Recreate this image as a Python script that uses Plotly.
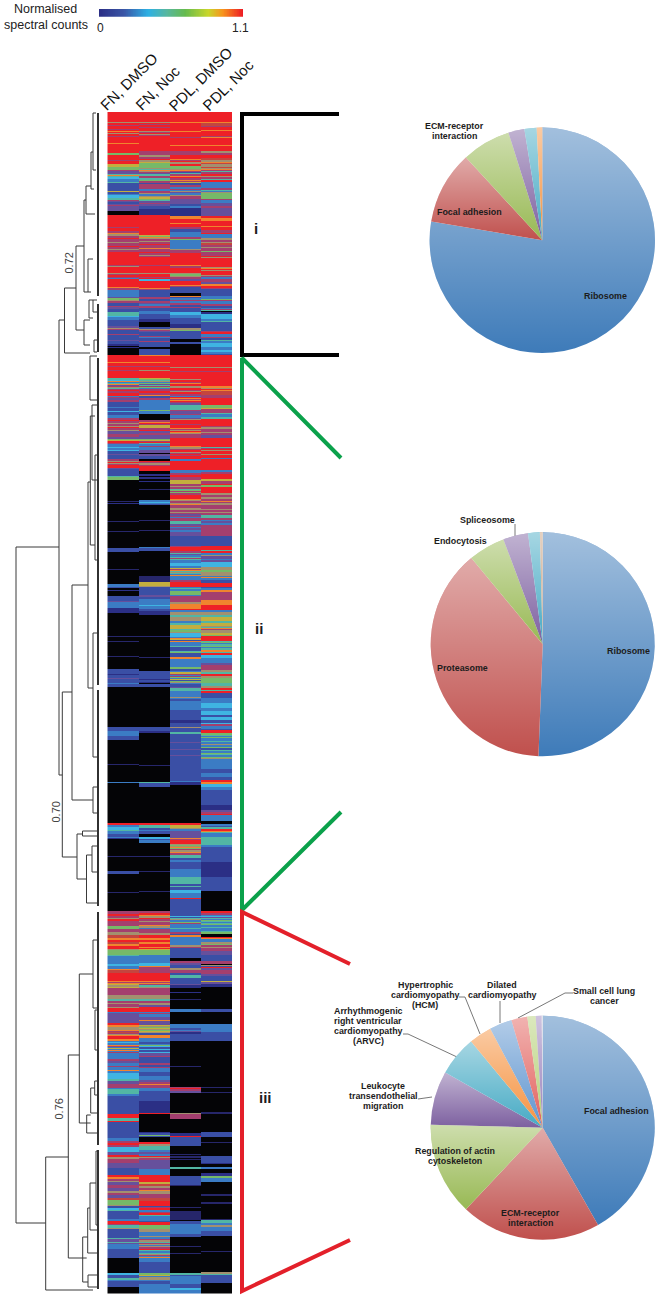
import base64, math
import plotly.graph_objects as go

W, H = 661, 1298

# ---------- heatmap data: run lengths "<level><rows>" read top to bottom; "@n" = this run starts at row n ----------
COLUMNS = ["FN, DMSO", "FN, Noc", "PDL, DMSO", "PDL, Noc"]
BLOCK_ROWS = [243, 275, 281, 383]
LEVELS = {"K": "#040406", "Q": "#26266a", "D": "#2b2f85", "B": "#3a4fa5", "L": "#3b7cc4", "C": "#3fb4e2",
          "T": "#52b6a4", "G": "#76b968", "Y": "#c3ae3e", "O": "#f0842e", "R": "#ee2027",
          "N": "#c4453f", "M": "#a43f6e", "P": "#66509c", "W": "#a3906f"}

FN_DMSO_I = "R10 W1 R2 M1 R3 M1 R1 O1 R1 W1 R2 M1 R3 R3 O1 R9 G2 R5 M1 R3 Y3 G3 M1 P3 T1 O1 T1 C2 L3 T1 B8 Y1 B2 L1 C3 T2 M1 P1 B2 P1 M1 P2 P3 @99 K4 R12 M1 R3 M2 O1 W2 M2 R1 M3 W1 M3 R1 M2 W1 M2 R8 @153 M1 W1 R6 W1 M1 R2 M1 L1 R8 O1 M2 @178 L7 P1 G2 W1 M2 B3 M1 P2 B3 T4 C1 L3 B6 P2 W1 M1 B4 M1 B5 P1 B3 D2 K1 D1 K7"
FN_NOC_I = "R10 W1 R1 M1 R2 M1 R3 W1 M1 R1 W1 M1 R5 R10 M4 W2 M2 R1 W2 Y1 G5 W1 T1 O1 W1 M1 P1 T2 M2 T2 G1 M2 B1 M2 M3 L2 M2 W1 L2 W1 Y2 G1 T1 P2 M1 P2 B3 D6 @103 R16 R4 Y1 G1 O1 W1 M2 W1 M2 R1 M3 O1 M3 R1 M2 W1 M1 R8 M1 R7 W1 R3 M1 R1 C2 R5 R2 O1 M1 B7 M2 B2 M2 P1 L2 M2 B3 L2 L1 B5 D3 @210 K5 B2 W1 M1 P1 B4 M1 L1 B3 M1 B3 B2 K2 B6"
PDL_DMSO_I = "R10 O1 R8 O1 R5 M1 R7 O1 R5 M4 R4 O1 M1 R1 W2 R2 G3 W1 O1 M1 B1 T1 M2 O1 R1 M2 O1 M1 Y1 B2 M2 L2 M1 L1 W1 P1 L2 W1 M3 P5 B2 L1 L1 D8 @104 O3 R4 O1 R3 M2 B3 L5 M2 G1 L9 W1 M3 R5 R7 O1 M2 R5 W1 G2 W1 M2 P2 R4 O1 M1 B5 @181 K3 O1 B1 L2 M1 L2 M2 B2 M1 B4 C3 L3 B2 B4 D4 W2 G1 B8 K3 B1 @232 K11"
PDL_NOC_I = "R10 O1 N3 M1 R3 O1 R5 M1 O1 R7 O1 R5 W2 M2 R3 N2 W2 O1 N1 W3 N1 W1 O1 M1 T1 M2 R2 W1 M2 T1 R2 L2 L4 M2 T1 L1 W1 G3 G3 M1 L3 P3 M2 P5 @104 R2 O3 R5 O1 R3 M3 R1 L4 W2 M2 W1 N2 M2 W1 M3 G1 M2 M2 R1 W1 R9 W1 O1 R1 W1 R4 W1 M1 L2 M1 M2 P2 O2 R2 M1 O1 L1 @177 B7 L3 G1 M1 L3 M2 B2 L1 M1 T1 K1 D2 C5 L2 T1 B3 B6 M1 R2 L3 M1 B2 T1 L2 C4 L3 C2 L2 B2"

FN_DMSO_IIA = "R7 O1 R3 M1 R3 M1 R7 T2 C1 O1 L1 T1 O1 P1 M1 W1 T1 M1 R1 M2 R3 L1 M1 P2 M1 M1 B5 L1 B3 C1 B3 L3 M2 R1 M2 W1 M2 W1 R1 M2 W1 P3 M3 P2 G1 Y1 R2 M1 L3 C1 L2 C1 B3 P1 B4 M2 W1 R1 W1 M1 R3 P1 B7 T1 G1 @125 K21 Q1 K1 D1 K17 Q1 K9 Q1 K16 @193 B4 K17 Q1 K14 @229 L3 B1 K2 D1 K2 K3 B5 P1 L6 D5 K17"
FN_DMSO_IIB = "K6 Q1 K4 Q1 K14 Q1 K12 B5 D1 B3 P1 B4 L1 B3 @57 K40 B4 L5 B4 K24 Q1 K17 L1 K40 @193 R2 L2 C3 T1 L3 B3 L1 D1 K3 K14 Q1 K14 B3 K18 Q1 K16"
FN_NOC_IIA = "O1 R6 O1 R3 M1 R3 W1 R7 Y1 G1 T1 W1 L1 G1 P1 T1 M1 G1 L1 M2 R2 M2 O1 B2 M2 L1 L2 L7 G1 L3 K6 M2 O1 R1 M1 Y3 M2 R1 P2 M2 P4 G1 Y1 M1 R1 T1 L2 M1 L3 P3 K1 P2 B3 K2 R1 M1 W2 M1 R2 @116 K3 D2 K1 D2 K2 D1 K7 Q1 K13 @145 L2 C1 L1 B1 K15 Q1 K9 Q1 K16 @192 L1 B3 K25 Q2 @227 Y4 W1 B8 P2 B2 L4 L2 C1 L3 B2 D4 K15"
FN_NOC_IIB = "K6 Q1 K20 Q1 K13 B8 D1 B2 D1 K1 B3 @57 K40 B4 D2 K32 Q1 K16 T1 B4 K36 @193 R2 T3 B2 L1 B3 K3 C2 B1 L3 K13 Q1 K14 Q1 K19 Q1 K19"
PDL_DMSO_IIA = "R12 W1 R3 M1 R7 W1 R2 M1 O1 R2 W2 R2 M1 W1 R2 M2 L1 R1 O1 M1 O1 R1 M1 P2 T6 @55 M1 P3 M1 L3 P1 W1 R4 M1 R3 O1 M1 W1 R1 O1 W1 M3 @83 R8 O1 W2 M1 R2 W1 M1 R1 M1 R3 L2 R9 @115 L3 M2 R2 M3 Y4 M2 W1 M2 T1 G1 M1 G1 M2 R4 O1 W1 M2 W1 O1 M2 M1 W2 M2 W1 M1 P2 M1 L1 M3 T3 P2 M1 L1 P2 L2 P4 @181 B10 M1 R4 M2 T1 P1 L2 T1 M1 T1 L3 C3 L2 Y1 M1 O1 T1 W1 T1 L1 O1 L4 M2 @227 R5 L1 T1 L2 G4 L1 M2 M2 M2 W1 @249 O5 R1 L2 W3 T2 W4 L2 T2 Y4 T1"
PDL_DMSO_IIB = "G2 W1 C4 L1 O1 Y1 B1 O1 L2 L2 T1 B4 T1 G1 B1 B3 O2 L8 G2 B2 L1 Y2 M1 L1 M1 G1 L1 Y1 B1 G1 W1 L1 B3 P1 T3 L6 W1 L1 B2 L9 B10 D3 B4 W1 B4 T2 B8 P1 B6 P1 B5 P1 B7 B18 L1 D3 @155 K38 @193 R2 Y3 W1 L2 P7 O1 M1 R4 W1 G1 W1 O1 G1 M1 W2 O1 M2 T3 B2 L2 B7 L2 L6 T7 B2 T1 B3 C3 L2 L3 R1 B12"
PDL_NOC_IIA = "R12 W1 R3 M1 R7 R7 O1 O1 W1 R1 O1 N4 M2 M1 R7 G3 Y3 @54 M2 M2 T1 L1 L2 T2 R7 M1 W2 M3 W1 M2 P3 @83 R9 T1 M1 R1 W1 R3 W1 R3 L1 R12 @115 L2 M2 R5 Y2 M3 R1 G2 R2 R4 W2 M2 W2 M2 O1 M1 W2 M2 M2 W1 M2 W1 M2 T3 M2 L1 P2 L1 L1 M1 @181 B10 R4 T1 R2 L2 W1 P3 L1 P2 C5 W3 G2 W4 L1 O1 L2 B2 @228 R4 B1 L2 O2 M2 M6 O1 @250 R5 L2 W3 T2 Y4 T2 Y3 W1 T1 O1 M1"
PDL_NOC_IIB = "W3 Y2 G1 R5 T1 G1 L1 T2 G1 L1 T2 O2 T1 R2 C3 L5 P2 M5 W2 T2 R2 W2 G5 T3 W2 R2 T1 R2 B5 L5 C5 L3 C4 B2 C3 B3 C1 M2 L3 B1 R3 G2 T1 L1 G1 L3 T1 L2 W1 L2 G1 B2 T1 L2 G1 T1 L2 G1 W1 L2 L8 B4 L4 B3 R2 O2 C3 L2 @160 B15 D5 P2 M2 R1 L6 K3 L2 B1 T2 R2 O1 T1 L4 T8 L2 B15 D15 B5 @261 K20"

FN_DMSO_III = "M3 R2 M2 W1 R2 M2 M3 G2 G1 M3 W3 N3 O2 R2 N2 O2 R3 W1 @39 G5 T1 L5 L3 C2 L3 O1 N3 @62 R8 O1 M1 O1 Y1 W2 Y1 M3 M4 W4 T2 M2 W1 M3 W1 R4 L1 @102 P7 P3 R2 O2 W3 O1 M1 N1 M1 W1 O1 R3 O2 @130 L1 C1 L2 O1 M1 L1 Y1 L1 O1 L1 M1 L6 M2 P2 L3 M1 L3 O1 L2 C6 T2 P3 M3 @177 L1 T5 L2 B14 B4 @203 R4 T3 R1 B16 L3 M2 R2 M2 C5 P3 R2 W2 M4 P5 B7 @264 R2 O2 M2 W1 P3 M3 P3 W2 M2 P3 N2 G5 W1 B2 C2 T1 B8 L2 R3 M1 T3 W1 B6 B3 T1 P3 T1 P1 L5 B3 B3 @347 K15 C2 B3 T2 L1 B3 B3 K7"
FN_NOC_III = "M2 R2 O1 W2 R1 M2 W1 M3 O1 W2 L1 M4 W2 R3 O2 R2 O2 R3 O1 R1 Y1 @39 G5 L5 L3 C3 O1 M1 M3 @62 R8 O1 M1 O1 M1 T2 W1 M2 M5 W4 T2 M2 W2 P2 R1 R4 L1 M1 @103 L3 P3 O1 P4 Y1 W1 G1 Y1 W1 G1 Y1 W1 B2 O3 L1 L3 B2 L1 G1 C1 B2 C1 B2 C1 P3 M1 B6 M2 B2 M1 L4 B4 L4 P2 M2 O1 M2 @177 L3 B10 D12 R1 @203 K18 D1 B2 G1 B1 K5 R2 W2 T4 L2 P2 L2 R1 W1 M2 P9 L6 @264 R7 Y2 N2 W2 M2 O1 W3 M4 N3 R5 B1 M1 R2 L2 M1 R2 T1 L5 B1 R3 G4 W3 L4 W1 L2 M1 W2 T1 M1 W1 L1 W1 M2 R1 T1 L2 T1 W1 M1 L1 O1 @347 L4 B11 G2 Y1 L1 W3 L1 B3 L3 L7"
PDL_DMSO_III = "B5 C1 B1 T1 W1 L2 G1 M1 L4 T1 L3 M2 B1 O2 L5 L3 W2 M1 B10 @47 K3 M2 P2 B3 W2 M3 B2 T3 B2 B4 P1 D3 K4 D1 K6 Q1 K9 @98 L3 K12 @113 L4 B2 L1 P1 D2 B6 @130 K25 Q1 K21 @176 M1 R1 M2 P2 K20 @202 W1 M5 K14 D3 R1 B9 K8 Q1 K1 Q2 K1 Q1 K7 T2 K7 @265 B9 Q1 K21 Q1 K3 Q1 @309 K1 B3 L10 B3 K9 Q1 K6 Q1 K20 @362 T2 B1 L5 L3 B4 C2 L4"
PDL_NOC_III = "R2 M2 L1 C1 P1 T1 L1 G1 T1 L1 T1 G1 L2 T1 L3 T1 G1 @23 K3 R1 O1 L3 W2 G1 M2 W1 M3 P4 B6 M3 K1 W1 B1 R1 P2 M4 P2 B5 Y1 P2 D2 @76 K22 B3 K4 K8 @113 L8 B9 @130 K46 Q1 K4 Q1 K19 Q2 K18 @221 B5 K5 Q1 K13 @245 B7 D1 K3 L2 K4 D3 G2 L4 K12 Q2 K6 Q2 K15 @308 Q1 T3 L2 W2 L4 B5 K15 Q1 K20 @361 W2 T1 B8 K11"

# ---------- colour key ----------
KEY_MIN, KEY_MAX = 0, 1.1
KEY_STOPS = [(0.0, "#2b2f85"), (0.17, "#3a55a6"), (0.34, "#2db0e4"), (0.47, "#57b7a0"),
             (0.6, "#66bb4d"), (0.76, "#c8d62b"), (0.86, "#f7941d"), (1.0, "#ed1c24")]

# ---------- pies: share of each pathway, clockwise from 12 o'clock ----------
PIE_COLOURS = ["#3e7bb9", "#c0504d", "#98b954", "#7d60a0", "#46aac4", "#f59240"]
PIE1_LABELS = ["Ribosome", "Focal adhesion", "ECM-receptor interaction", "p4", "p5", "p6"]
PIE1_VALUES = [77.7, 10.5, 7.0, 2.3, 1.75, 0.8]
PIE2_LABELS = ["Ribosome", "Proteasome", "Endocytosis", "Spliceosome", "p5", "p6"]
PIE2_VALUES = [50.6, 38.4, 5.3, 3.6, 1.7, 0.4]
PIE3_LABELS = ["Focal adhesion", "ECM-receptor interaction", "Regulation of actin cytoskeleton",
               "Leukocyte transendothelial migration", "ARVC", "HCM", "Dilated cardiomyopathy",
               "Small cell lung cancer", "p9", "p10", "p11"]
PIE3_VALUES = [41.8, 20.25, 13.4, 7.8, 5.75, 3.3, 3.25, 2.3, 1.2, 0.86, 0.14]
PIE3_COLOURS = ["#3e7bb9", "#c0504d", "#98b954", "#7d60a0", "#46aac4", "#f59240",
                "#5f95cf", "#e2605c", "#b5d077", "#9a82bd", "#c9c9d8"]

# ---------- dendrogram: merge position, top child y + x, bottom child y + x ----------
DENDRO_X     = [16, 59, 64.5, 76, 84, 88, 86, 91, 93, 84, 89, 62.3, 72, 88, 93, 93, 90.3, 77, 82.5, 86.5, 92,
                45.7, 68.3, 79.3, 93, 86.7, 82.7, 87.7, 90, 88, 90.7, 94.7, 96, 90, 92, 95, 94, 93, 95]
DENDRO_TOP   = [547, 320, 288, 246, 200, 259, 186, 152, 113, 320, 300, 692, 585, 482, 633, 787, 416, 834, 831, 855, 846,
                1157, 1055, 974, 940, 1115, 1237, 1208, 1183, 1275, 1088, 1081, 1151, 356, 405, 455, 340, 300, 1010]
DENDRO_BOT   = [1223, 775, 353, 330, 292, 292, 214, 189, 170, 345, 318, 857, 800, 688, 757, 813, 545, 879, 836, 903, 872,
                1290, 1258, 1123, 1008, 1133, 1282, 1253, 1230, 1287, 1113, 1095, 1225, 400, 480, 560, 352, 312, 1050]
DENDRO_TOP_C = [59, 64.5, 76, 84, 86, 93, 91, 93, 96, 90, 93, 72, 88, 90.3, 97, 97, 95, 82.5, 97, 92, 97,
                68.3, 79.3, 93, 97, 90.7, 87.7, 90, 96, 97, 94.7, 97, 97, 97, 97, 97, 97, 97, 97]
DENDRO_BOT_C = [45.7, 62.3, 90, 84, 88, 91, 95, 94, 96, 90, 93, 77, 93, 93, 97, 97, 95, 86.5, 97, 97, 97,
                93, 86.7, 90.7, 97, 97, 88, 97, 97, 97, 97, 97, 97, 97, 97, 97, 97, 97, 97]
LEAF_X = 98
LEAF_Y0 = [113, 304, 358, 690, 912, 1150]
LEAF_Y1 = [296, 352, 685, 906, 1145, 1289]

CLUSTER_BRACKETS = {
    "#000000": ([339, 242, 242, 339], [114, 114, 355, 355]),
    "#0ba14b": ([341, 242, 242, 341], [458, 358, 910, 812]),
    "#e3202a": ([350, 242, 242, 350], [964, 912, 1291, 1240]),
}


def expand(runs, n):
    out = []
    for tok in runs.split():
        if tok[0] == "@":
            k = int(tok[1:])
            out = (out + [out[-1]] * k)[:k]
        else:
            out += [tok[0]] * int(tok[1:])
    return (out + [out[-1]] * n)[:n]


codes = list(LEVELS)
cols = []
for parts in [(FN_DMSO_I, FN_DMSO_IIA, FN_DMSO_IIB, FN_DMSO_III), (FN_NOC_I, FN_NOC_IIA, FN_NOC_IIB, FN_NOC_III),
              (PDL_DMSO_I, PDL_DMSO_IIA, PDL_DMSO_IIB, PDL_DMSO_III), (PDL_NOC_I, PDL_NOC_IIA, PDL_NOC_IIB, PDL_NOC_III)]:
    col = []
    for p, m in zip(parts, BLOCK_ROWS):
        col += expand(p, m)
    cols.append(col)
z = [[codes.index(col[i]) for col in cols] for i in range(sum(BLOCK_ROWS))]
n = len(codes)
scale = []
for i, c in enumerate(codes):
    scale += [[i / n, LEVELS[c]], [(i + 1) / n, LEVELS[c]]]


def px(x):
    return x / W


def py(y):
    return 1 - y / H


fig = go.Figure()
page = dict(xaxis="x3", yaxis="y3", hoverinfo="skip", showlegend=False, mode="lines")

fig.add_trace(go.Heatmap(z=z, x=COLUMNS, colorscale=scale, zmin=0, zmax=n, showscale=False,
                         xaxis="x", yaxis="y", hoverinfo="skip"))
fig.add_trace(go.Heatmap(z=[[(KEY_MAX - KEY_MIN) * i / 200 for i in range(201)]], colorscale=[[a, b] for a, b in KEY_STOPS],
                         zmin=KEY_MIN, zmax=KEY_MAX, showscale=False, xaxis="x2", yaxis="y2", hoverinfo="skip"))

dx, dy = [], []
for x, t, b, tc, bc in zip(DENDRO_X, DENDRO_TOP, DENDRO_BOT, DENDRO_TOP_C, DENDRO_BOT_C):
    dx += [tc, x, x, bc, None]
    dy += [t, t, b, b, None]
fig.add_trace(go.Scatter(x=dx, y=dy, line=dict(color="#3a3a3a", width=1), **page))
lx, ly = [], []
for a, b in zip(LEAF_Y0, LEAF_Y1):
    lx += [LEAF_X, LEAF_X, None]
    ly += [a, b, None]
fig.add_trace(go.Scatter(x=lx, y=ly, line=dict(color="#1a1a1a", width=1.8), **page))

for colour, (bx, by) in CLUSTER_BRACKETS.items():
    fig.add_trace(go.Scatter(x=bx, y=by, line=dict(color=colour, width=4), **page))

LEADERS = [
    ([515, 515], [524, 536]),
    ([459, 465, 480], [997, 997, 1034]),
    ([500, 500], [1001, 1023]),
    ([573, 565, 518], [993, 993, 1018]),
    ([403, 408, 457], [1034, 1034, 1057]),
    ([418, 432], [1099, 1097]),
]
for lx_, ly_ in LEADERS:
    fig.add_trace(go.Scatter(x=lx_, y=ly_, line=dict(color="#555555", width=0.8), **page))

PIES = [
    (542.3, 240.3, 112.7, PIE1_LABELS, PIE1_VALUES, PIE_COLOURS),
    (542.7, 644.3, 112.0, PIE2_LABELS, PIE2_VALUES, ["#3e7bb9", "#c0504d", "#98b954", "#7d60a0", "#46aac4", "#c9a080"]),
    (542.7, 1127.7, 112.0, PIE3_LABELS, PIE3_VALUES, PIE3_COLOURS),
]
images = []
for cx, cy, r, labels, values, colours in PIES:
    fig.add_trace(go.Pie(labels=labels, values=values, sort=False, direction="clockwise", rotation=0,
                         textinfo="none", hoverinfo="skip", showlegend=False,
                         marker=dict(colors=colours, line=dict(width=0)),
                         domain=dict(x=[px(cx - r), px(cx + r)], y=[py(cy + r), py(cy - r)])))
    total = sum(values)
    defs, paths, a = "", "", 0.0
    for i, v in enumerate(values):
        b = a + v / total * 2 * math.pi
        x0, y0 = 100 + 100 * math.sin(a), 100 - 100 * math.cos(a)
        x1, y1 = 100 + 100 * math.sin(b), 100 - 100 * math.cos(b)
        defs += (f'<linearGradient id="g{i}" x1="0" y1="0" x2="0" y2="1"><stop offset="0" stop-color="#fff" stop-opacity="0.52"/>'
                 f'<stop offset="1" stop-color="#fff" stop-opacity="0"/></linearGradient>')
        paths += (f'<path d="M100 100 L{x0:.3f} {y0:.3f} A100 100 0 {1 if b - a > math.pi else 0} 1 {x1:.3f} {y1:.3f} Z" '
                  f'fill="url(#g{i})"/>')
        a = b
    svg = f'<svg xmlns="http://www.w3.org/2000/svg" viewBox="0 0 200 200" width="400" height="400"><defs>{defs}</defs>{paths}</svg>'
    images.append(dict(source="data:image/svg+xml;base64," + base64.b64encode(svg.encode()).decode(),
                       xref="paper", yref="paper", x=px(cx - r), y=py(cy - r), sizex=2 * r / W, sizey=2 * r / H,
                       xanchor="left", yanchor="top", sizing="stretch", layer="above"))

SANS = "Liberation Sans, Arial, sans-serif"
ann = []


def text(s, x, y, size=8.9, bold=True, colour="#1c1c1c", angle=0, anchor="center"):
    ann.append(dict(text=f"<b>{s}</b>" if bold else s, x=px(x), y=py(y), xref="paper", yref="paper", showarrow=False,
                    xanchor=anchor, yanchor="middle", textangle=angle, font=dict(family=SANS, size=size, color=colour)))


def block(lines, x, y, step=10.0):
    top = y - step * (len(lines) - 1) / 2
    for i, s in enumerate(lines):
        text(s, x, top + i * step)


text("Normalised", 45.5, 9, 12.5, False, "#222")
text("spectral counts", 45.5, 24.5, 12.5, False, "#222")
text("0", 100, 28.5, 12, False, "#222")
text("1.1", 240, 28.5, 12, False, "#222")
for s, x, y in zip(COLUMNS, [128.7, 158, 201, 228.7], [81.3, 87.7, 78.5, 85]):
    text(s, x, y, 15, False, "#111", -45)
text("0.72", 68.5, 263, 11, False, "#444", -90)
text("0.70", 55.5, 812, 11, False, "#444", -90)
text("0.76", 58.5, 1109, 11, False, "#444", -90)
text("i", 256, 228, 15)
text("ii", 259, 628, 15)
text("iii", 265, 1097, 15)
block(["ECM-receptor", "interaction"], 455, 131)
text("Focal adhesion", 470, 211.7)
text("Ribosome", 605, 295.7)
text("Spliceosome", 487.3, 520)
text("Endocytosis", 460, 541)
text("Ribosome", 628.7, 651)
text("Proteasome", 462.7, 668)
block(["Hypertrophic", "cardiomyopathy", "(HCM)"], 425.3, 994.7)
block(["Dilated", "cardiomyopathy"], 502, 989.7)
block(["Small cell lung", "cancer"], 604.3, 996)
block(["Arrhythmogenic", "right ventricular", "cardiomyopathy", "(ARVC)"], 368.3, 1026)
block(["Leukocyte", "transendothelial", "migration"], 383.3, 1096)
block(["Regulation of actin", "cytoskeleton"], 454.7, 1156)
text("Focal adhesion", 616.7, 1110.7)
block(["ECM-receptor", "interaction"], 530, 1218.3)

hidden = dict(visible=False, showgrid=False, zeroline=False)
fig.update_layout(
    width=W, height=H, margin=dict(l=0, r=0, t=0, b=0), paper_bgcolor="white", plot_bgcolor="rgba(0,0,0,0)",
    autosize=False, images=images, annotations=ann,
    xaxis=dict(domain=[px(107.3), px(232)], **hidden),
    yaxis=dict(domain=[py(1293.5), py(112)], autorange="reversed", **hidden),
    xaxis2=dict(domain=[px(99), px(243)], **hidden),
    yaxis2=dict(domain=[py(16.7), py(9)], **hidden),
    xaxis3=dict(domain=[0, 1], range=[0, W], **hidden),
    yaxis3=dict(domain=[0, 1], range=[H, 0], **hidden),
)
fig.write_html("out.html", config=dict(displayModeBar=False),
               post_script="document.documentElement.style.margin='0';document.body.style.margin='0';")
